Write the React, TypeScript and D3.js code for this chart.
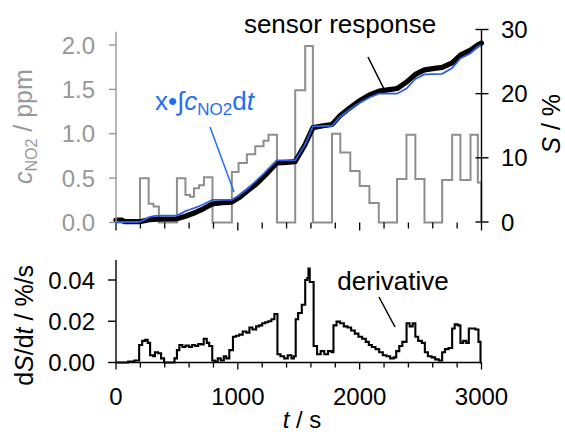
import * as d3 from 'd3';

const WIDTH = 565;
const HEIGHT = 434;
const FONT = '"Liberation Sans", Arial, Helvetica, sans-serif';
const GREY = '#989898';
const GREY_LINE = '#8e8e8e';
const BLUE = '#1f6ff0';
const BLUE_CURVE = '#2b5fe6';

// NO2 dosing steps: [t (s), c (ppm)], held until the next entry
const concentration = [
  [0, 0], [197, 0.5], [268, 0.21], [308, 0.18], [352, 0],
  [500, 0.5], [570, 0.31], [608, 0.29], [640, 0.385], [682, 0.42], [722, 0.51], [792, 0],
  [951, 0.57], [1006, 0.67], [1074, 0.77], [1143, 0.86], [1211, 0.92], [1252, 0.99], [1321, 0],
  [1471, 1.49], [1553, 1.99], [1616, 0],
  [1773, 1.0], [1841, 0.79], [1923, 0.58], [2000, 0.41], [2080, 0.22], [2157, 0],
  [2307, 0.49], [2384, 0.99], [2457, 0.49], [2532, 0],
  [2677, 0.48], [2759, 0.99], [2827, 0.48], [2910, 0.99], [2970, 0.45], [2998, 0],
];

// measured sensor response S (%)
const sensorResponse = [
  [0, 0.3], [50, 0.3], [70, 0.05], [195, 0.05], [270, 0.35], [350, 0.45], [500, 0.5],
  [570, 0.9], [640, 1.4], [720, 2.1], [790, 2.8], [870, 3.0], [950, 3.1],
  [1010, 3.8], [1075, 4.8], [1150, 5.9], [1215, 7.1], [1260, 8.0], [1320, 9.2], [1400, 9.3], [1470, 9.4],
  [1550, 12.0], [1616, 14.7], [1700, 15.0], [1773, 15.2],
  [1840, 16.6], [1920, 17.8], [2000, 18.9], [2080, 19.8], [2160, 20.4], [2230, 20.6], [2307, 20.8],
  [2384, 21.8], [2457, 23.0], [2532, 23.7], [2600, 23.9], [2677, 24.1],
  [2759, 24.8], [2827, 26.0], [2910, 26.8], [2970, 27.6], [3000, 27.9],
];

// x * integral of c dt (%)
const doseIntegral = [
  [0, 0], [197, 0], [268, 0.72], [308, 0.9], [352, 1.0], [500, 1.0],
  [570, 1.7], [608, 1.95], [640, 2.15], [682, 2.45], [722, 2.8], [792, 3.45], [951, 3.45],
  [1006, 4.1], [1074, 5.1], [1143, 6.3], [1211, 7.5], [1252, 8.3], [1321, 9.6], [1471, 9.6],
  [1553, 12.1], [1616, 14.9], [1773, 15.0],
  [1841, 16.4], [1923, 17.6], [2000, 18.6], [2080, 19.4], [2157, 20.0], [2307, 20.0],
  [2384, 20.8], [2457, 22.3], [2532, 23.0], [2677, 23.1],
  [2759, 24.0], [2827, 25.5], [2910, 26.3], [2970, 27.3], [3000, 27.6],
];

// dS/dt (%/s)
const derivative = [
  [0, 0], [100, 0.0005], [150, 0.001], [190, 0.0085], [215, 0.0105], [240, 0.011], [260, 0.0095],
  [280, 0.0035], [305, 0.003], [320, 0.005], [345, 0.0045], [370, 0.002], [395, 0],
  [480, 0.002], [500, 0.006], [520, 0.0085], [545, 0.0075], [570, 0.0082], [600, 0.0075],
  [625, 0.0085], [650, 0.008], [675, 0.009], [700, 0.0088], [720, 0.0115], [745, 0.0095],
  [765, 0.008], [790, 0.001], [810, 0.0005], [835, 0.002], [860, 0.001], [885, 0.003],
  [905, 0.002], [930, 0.006], [960, 0.0125], [985, 0.013], [1010, 0.0135], [1040, 0.015],
  [1070, 0.0145], [1095, 0.017], [1120, 0.016], [1150, 0.0175], [1175, 0.018], [1200, 0.019],
  [1225, 0.0195], [1250, 0.02], [1275, 0.021], [1300, 0.0235], [1325, 0.004], [1350, 0.003],
  [1380, 0.002], [1410, 0.0035], [1440, 0.002], [1460, 0.003], [1475, 0.021], [1495, 0.024],
  [1525, 0.028], [1553, 0.04], [1570, 0.041], [1580, 0.0455], [1590, 0.039], [1622, 0.008],
  [1650, 0.004], [1680, 0.0055], [1710, 0.004], [1740, 0.0055], [1770, 0.005], [1785, 0.018],
  [1810, 0.0198], [1840, 0.019], [1870, 0.0175], [1900, 0.017], [1930, 0.0155], [1960, 0.014],
  [1990, 0.0125], [2020, 0.0115], [2050, 0.01], [2075, 0.0085], [2100, 0.0075], [2130, 0.0065],
  [2160, 0.005], [2190, 0.0035], [2220, 0.003], [2250, 0.002], [2280, 0.0025], [2300, 0.0055],
  [2325, 0.008], [2350, 0.01], [2385, 0.019], [2410, 0.0175], [2435, 0.019], [2457, 0.0125],
  [2480, 0.0105], [2510, 0.0095], [2535, 0.005], [2560, 0.003], [2590, 0.0025], [2620, 0.0015],
  [2650, 0.001], [2677, 0.005], [2700, 0.0065], [2730, 0.007], [2759, 0.0165], [2780, 0.0185],
  [2805, 0.018], [2827, 0.0095], [2850, 0.0105], [2875, 0.0095], [2896, 0.0165], [2920, 0.0165],
  [2950, 0.016], [2975, 0.01], [2992, 0], [3000, 0],
];

const timeTicks = [0, 1000, 2000, 3000];
const concTicks = [0, 0.5, 1, 1.5, 2];
const responseTicks = [0, 10, 20, 30];
const derivTicks = [0, 0.02, 0.04];

const App = () => {
  const x = d3.scaleLinear().domain([0, 3000]).range([116, 481.5]);
  const yC = d3.scaleLinear().domain([0, 2]).range([222.5, 45]);
  const yS = d3.scaleLinear().domain([0, 30]).range([222, 29.5]);
  const yD = d3.scaleLinear().domain([0, 0.04]).range([362.5, 280]);

  const minorTicks = d3.range(0, 3001, 200);

  const concLine = d3.line<number[]>()
    .x((d) => x(d[0]))
    .y((d) => yC(d[1]))
    .curve(d3.curveStepAfter);
  const sLine = d3.line<number[]>()
    .x((d) => x(d[0]))
    .y((d) => yS(d[1]));
  const derivLine = d3.line<number[]>()
    .x((d) => x(d[0]))
    .y((d) => yD(d[1]))
    .curve(d3.curveStepAfter);

  const fmt1 = d3.format('.1f');
  const fmt2 = d3.format('.2f');

  const x0 = x(0);
  const x1 = x(3000);
  const topBase = yC(0);
  const botBase = yD(0);

  return (
    <svg
      width={WIDTH}
      height={HEIGHT}
      style={{ position: 'absolute', left: 0, top: 0, background: '#fff' }}
      fontFamily={FONT}
    >
      {/* top panel data */}
      <path d={concLine(concentration) || ''} fill="none" stroke={GREY_LINE} strokeWidth={2} />
      <path
        d={sLine(sensorResponse) || ''}
        fill="none"
        stroke="#000"
        strokeWidth={5.2}
        strokeLinejoin="round"
        strokeLinecap="round"
      />
      <path d={sLine(doseIntegral) || ''} fill="none" stroke={BLUE_CURVE} strokeWidth={1.8} />

      {/* top panel x ticks */}
      {minorTicks.map((t) => (
        <line
          key={'tt' + t}
          x1={x(t)}
          x2={x(t)}
          y1={topBase}
          y2={topBase + (t % 1000 === 0 ? 8 : 6)}
          stroke="#000"
          strokeWidth={1.3}
        />
      ))}

      {/* left axis (concentration) */}
      <line x1={x0} x2={x0} y1={yC(0)} y2={yC(2.15)} stroke={GREY} strokeWidth={1.4} />
      {concTicks.map((c) => (
        <g key={'c' + c}>
          <line x1={x0 - 7} x2={x0} y1={yC(c)} y2={yC(c)} stroke={GREY} strokeWidth={1.4} />
          <text x={95} y={yC(c)} dy="0.36em" textAnchor="end" fontSize={24} fill={GREY}>
            {fmt1(c)}
          </text>
        </g>
      ))}
      <text transform={`translate(32,${yC(1.08)}) rotate(-90)`} textAnchor="middle" fontSize={25} fill={GREY}>
        <tspan fontStyle="italic">c</tspan>
        <tspan fontSize={16} dy={5}>NO2</tspan>
        <tspan dy={-5}>{' / ppm'}</tspan>
      </text>

      {/* right axis (response) */}
      <line x1={x1} x2={x1} y1={yS(0)} y2={yS(30)} stroke="#000" strokeWidth={1.4} />
      {responseTicks.map((s) => (
        <g key={'s' + s}>
          <line x1={x1 - 6} x2={x1 + 7} y1={yS(s)} y2={yS(s)} stroke="#000" strokeWidth={1.4} />
          <text x={501} y={yS(s)} dy="0.36em" textAnchor="start" fontSize={24} fill="#000">
            {s}
          </text>
        </g>
      ))}
      <text transform={`translate(560,${yS(15.3)}) rotate(-90)`} textAnchor="middle" fontSize={25} fill="#000">
        <tspan fontStyle="italic">S</tspan>
        <tspan>{' / %'}</tspan>
      </text>

      {/* top annotations */}
      <text x={340} y={33} textAnchor="middle" fontSize={26} fill="#000">
        sensor response
      </text>
      <line x1={368} y1={57} x2={384} y2={89} stroke="#000" strokeWidth={1.5} />
      <text x={155} y={110} fontSize={26} fill={BLUE}>
        <tspan>{'x•∫'}</tspan>
        <tspan fontStyle="italic">c</tspan>
        <tspan fontSize={17} dy={5}>NO2</tspan>
        <tspan dy={-5}>d</tspan>
        <tspan fontStyle="italic">t</tspan>
      </text>
      <line x1={210} y1={127} x2={234} y2={192} stroke={BLUE} strokeWidth={1.5} />

      {/* bottom panel */}
      <path d={derivLine(derivative) || ''} fill="none" stroke="#000" strokeWidth={2.1} />
      <line x1={x0} x2={x1} y1={botBase} y2={botBase} stroke="#000" strokeWidth={1.4} />
      <line x1={x0} x2={x0} y1={botBase} y2={yD(0.0497)} stroke="#000" strokeWidth={1.4} />
      {derivTicks.map((v) => (
        <g key={'d' + v}>
          <line x1={x0 - 8} x2={x0} y1={yD(v)} y2={yD(v)} stroke="#000" strokeWidth={1.4} />
          <text x={95} y={yD(v)} dy="0.36em" textAnchor="end" fontSize={24} fill="#000">
            {fmt2(v)}
          </text>
        </g>
      ))}
      {minorTicks.map((t) => (
        <line
          key={'bt' + t}
          x1={x(t)}
          x2={x(t)}
          y1={botBase}
          y2={botBase + (t % 1000 === 0 ? 7 : 5)}
          stroke="#000"
          strokeWidth={1.3}
        />
      ))}
      {timeTicks.map((t) => (
        <text key={'tl' + t} x={x(t)} y={405} textAnchor="middle" fontSize={24} fill="#000">
          {t}
        </text>
      ))}
      <text x={302} y={428} textAnchor="middle" fontSize={24} fill="#000">
        <tspan fontStyle="italic">t</tspan>
        <tspan>{' / s'}</tspan>
      </text>
      <text transform={`translate(33,${yD(0.018)}) rotate(-90)`} textAnchor="middle" fontSize={25} fill="#000">
        <tspan>d</tspan>
        <tspan fontStyle="italic">S</tspan>
        <tspan>/d</tspan>
        <tspan fontStyle="italic">t</tspan>
        <tspan>{' / %/s'}</tspan>
      </text>
      <text x={393} y={290} textAnchor="middle" fontSize={26} fill="#000">
        derivative
      </text>
      <line x1={379} y1={297} x2={395} y2={327} stroke="#000" strokeWidth={1.5} />
    </svg>
  );
};

export default App;
